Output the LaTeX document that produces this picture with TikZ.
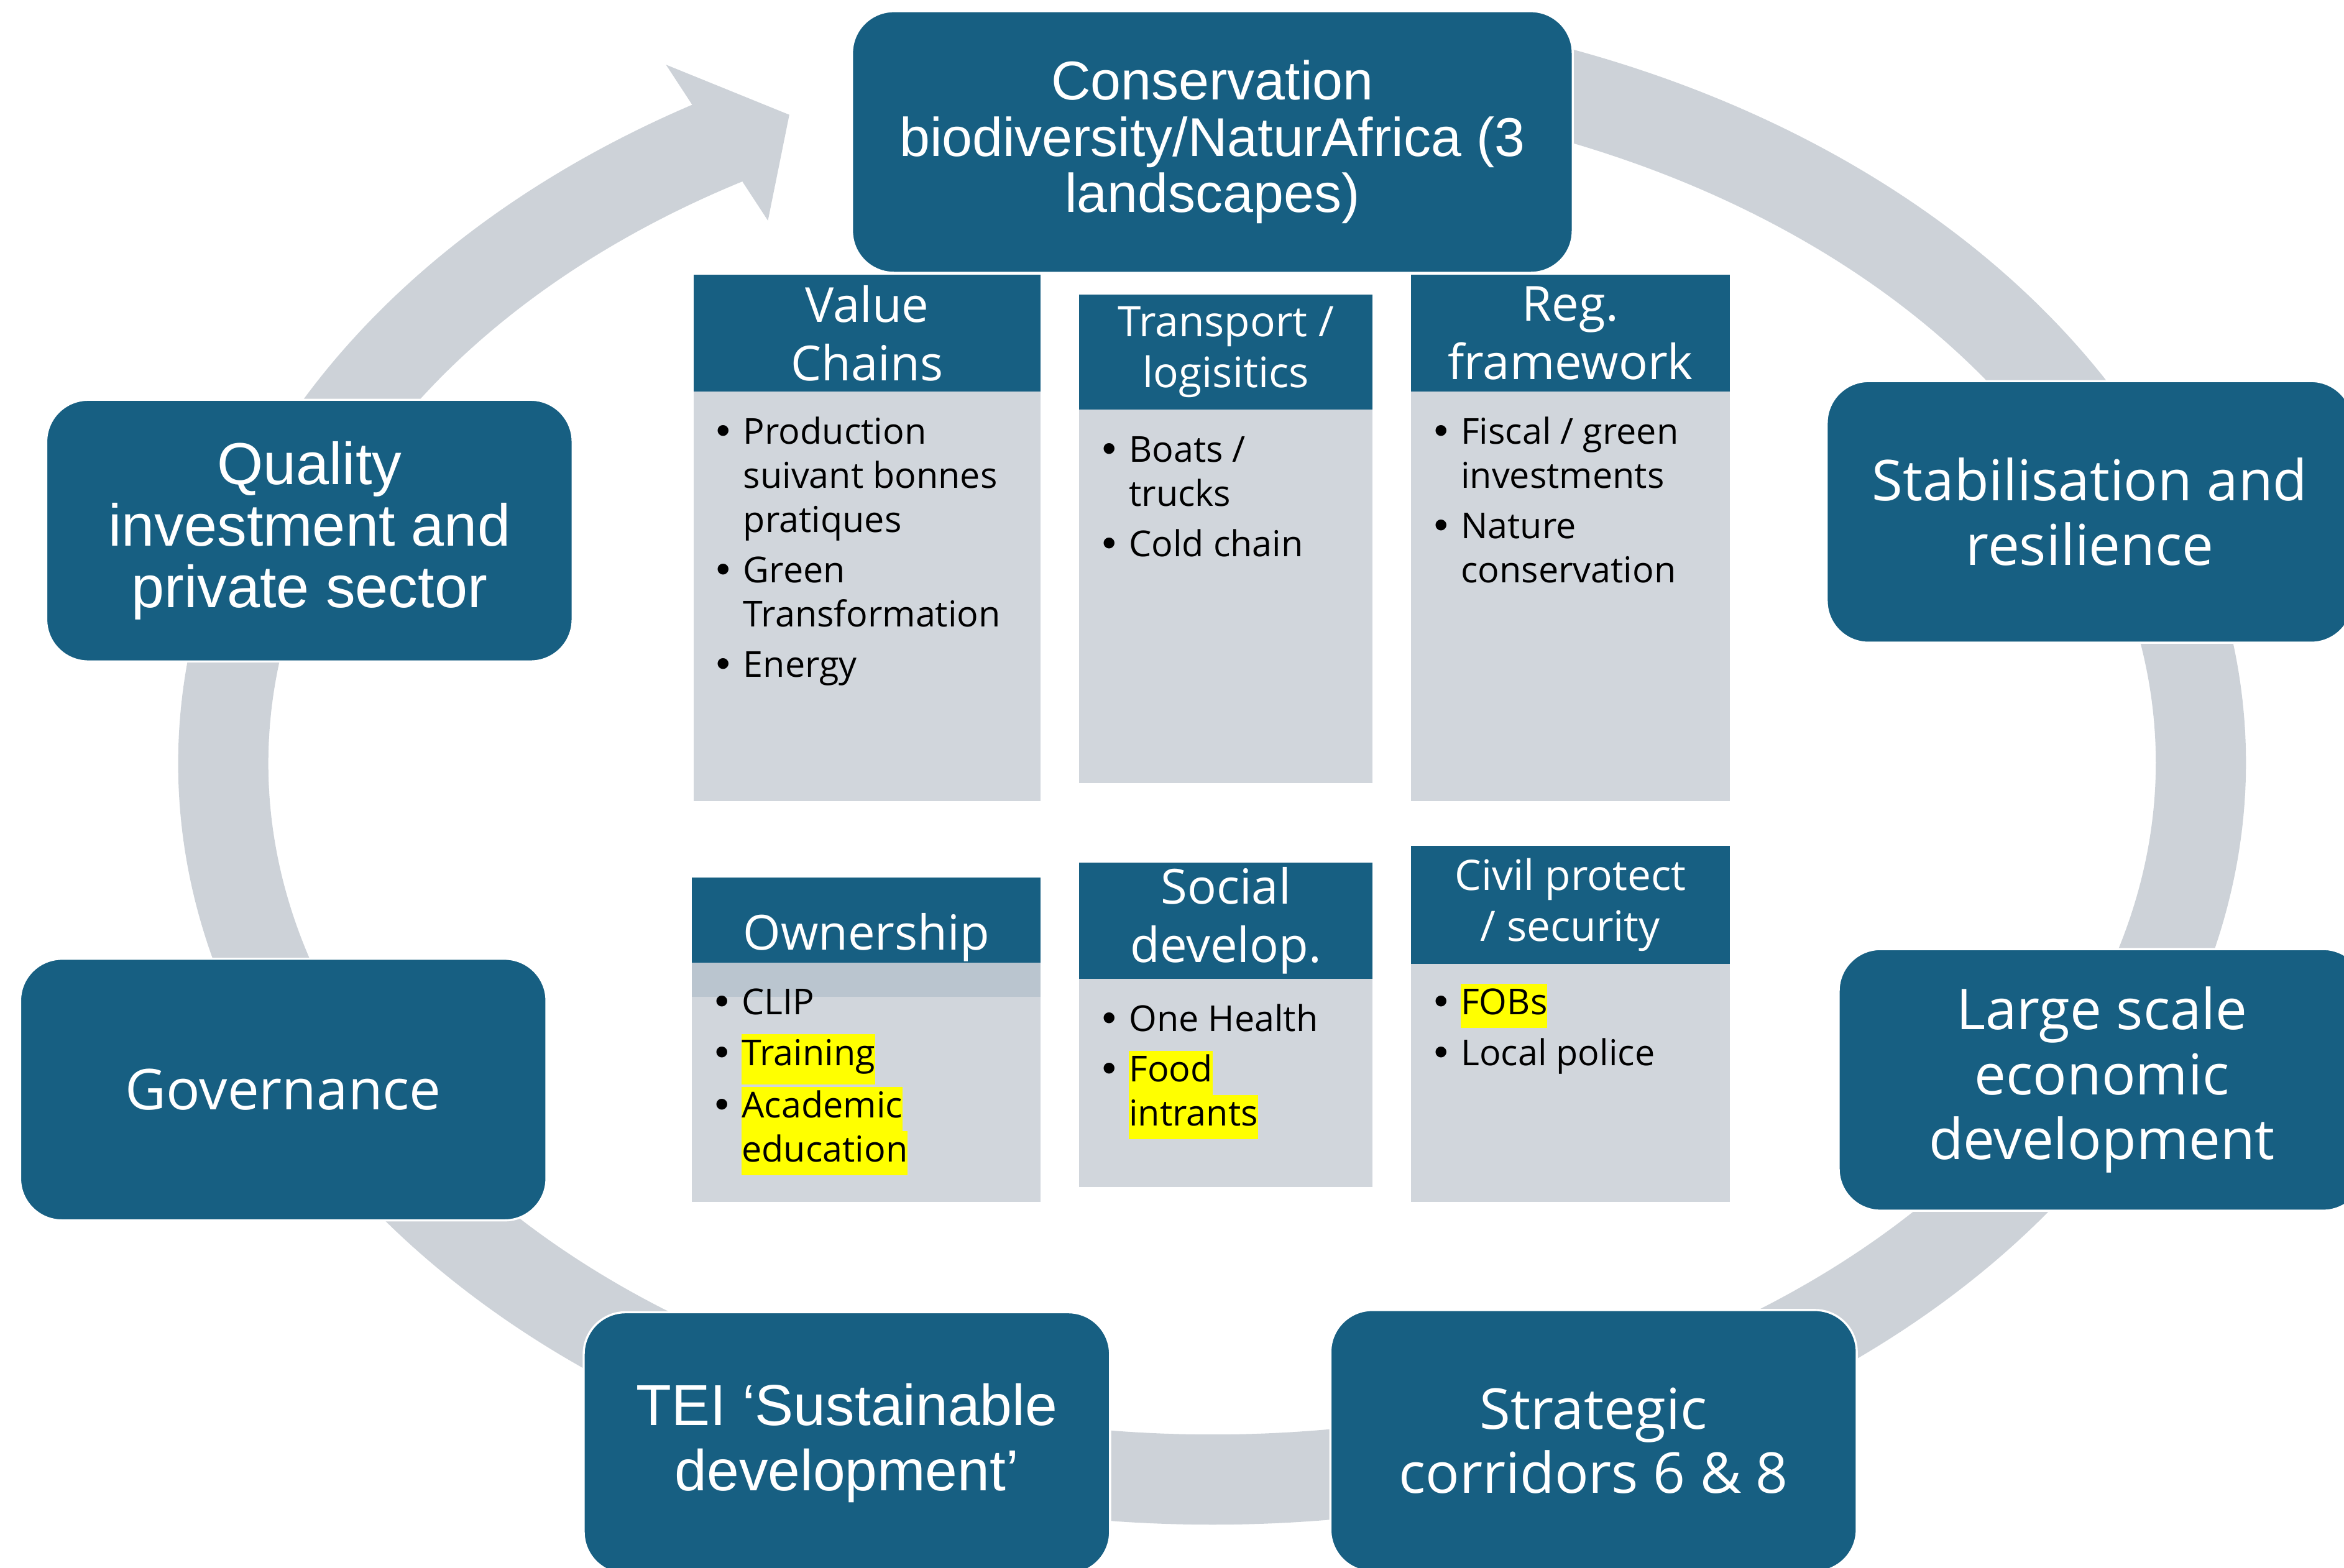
\documentclass[tikz,border=0pt]{standalone}
\usepackage{fontspec}
\setmainfont{Liberation Sans}
\newfontfamily\aptos{Open Sans}
\usepackage{xcolor}
\usepackage{tikz}
\usetikzlibrary{positioning,calc}
\definecolor{boxblue}{RGB}{23,95,130}
\definecolor{ringgray}{RGB}{205,210,216}
\definecolor{panelgray}{RGB}{204,209,216}
\definecolor{hlyellow}{RGB}{255,255,0}
\tikzstyle{box} = [rectangle,rounded corners=0.7cm,fill=boxblue,draw=white,line width=1pt,text=white,align=center,minimum width=8.8cm,minimum height=4.375cm,inner sep=0pt]
\tikzstyle{hdr} = [rectangle,fill=boxblue,text=white,align=center,inner sep=0pt,outer sep=0pt,font=\aptos\fontsize{23}{27.7}\selectfont]
\tikzstyle{panel} = [rectangle,fill=panelgray,fill opacity=0.9,inner sep=0pt,outer sep=0pt]
\tikzstyle{list} = [anchor=north west,inner sep=0pt,align=left,font=\aptos\fontsize{17}{21}\selectfont]
\tikzstyle{ring} = [draw=ringgray,line width=1.5075cm]
\newcommand{\bul}{\makebox[0.45cm][l]{\rmfamily\fontsize{19}{21}\selectfont\textbullet}}
\newcommand{\ind}{\hspace*{0.45cm}}
\newcommand{\hl}[2][0pt]{{\setlength{\fboxsep}{0pt}\colorbox{hlyellow}{\rule[\dimexpr-0.3\baselineskip-#1\relax]{0pt}{\dimexpr\baselineskip+#1\relax}#2}}}

\begin{document}
\begin{tikzpicture}[x=0.025cm,y=-0.025cm]
    \useasboundingbox (0,0) rectangle (1568,1049);
    \coordinate (ctr) at (810.8,510.6);
    \draw[ring] ($(ctr)+({661.3*cos(-75)},{479.2*sin(-75)})$) arc[start angle=-75,end angle=241,x radius=661.3,y radius=479.2];
    \coordinate (barbA) at (445.5,43.3);
    \coordinate (tip) at (528,76.8);
    \coordinate (barbB) at (513.7,147.6);
    \fill[ringgray] (barbA) -- (tip) -- (barbB) -- cycle;

    \node[box,minimum width=12.05cm,font=\fontsize{26}{26.7}\selectfont] (cons) at (811,95) {Conservation\\biodiversity/NaturAfrica (3\\landscapes)};
    \node[box,font=\fontsize{28.2}{29.2}\selectfont] (qual) at (207,355) {Quality\\investment and\\private sector};
    \node[box,font=\aptos\fontsize{26.8}{30.8}\selectfont] (stab) at (1398,342.5) {Stabilisation and\\resilience};
    \node[box,font=\aptos\fontsize{26.8}{30.8}\selectfont] (gov) at (189.5,729) {Governance};
    \node[box,font=\aptos\fontsize{26.8}{30.9}\selectfont] (large) at (1406,722.5) {Large scale\\economic\\development};
    \node[box,font=\fontsize{27.5}{31}\selectfont] (tei) at (566.5,965.5) {TEI ‘Sustainable\\development’};
    \node[box,font=\aptos\fontsize{26.8}{30.6}\selectfont] (corr) at (1066,964) {Strategic\\corridors 6 \& 8};

    \node[hdr,minimum width=5.8cm,minimum height=1.95cm] (vcHead) at (580,223) {Value\\Chains};
    \node[panel,below=0pt of vcHead,minimum width=5.8cm,minimum height=6.85cm] (vcBody) {};
    \node[list] (vcList) at ($(vcBody.north west)+(15,14)$) {\strut\bul Production\\ \ind suivant bonnes\\ \ind pratiques\\[3pt] \bul Green\\ \ind Transformation\\[3pt] \bul Energy};

    \node[hdr,minimum width=4.9cm,minimum height=1.925cm,font=\aptos\fontsize{20}{24.2}\selectfont] (tlHead) at (820,235.5) {Transport /\\logisitics};
    \node[panel,below=0pt of tlHead,minimum width=4.9cm,minimum height=6.25cm] (tlBody) {};
    \node[list] (tlList) at ($(tlBody.north west)+(15,14)$) {\strut\bul Boats /\\ \ind trucks\\[3pt] \bul Cold chain};

    \node[hdr,minimum width=5.325cm,minimum height=1.95cm] (rgHead) at (1050.5,223) {Reg.\\framework};
    \node[panel,below=0pt of rgHead,minimum width=5.325cm,minimum height=6.85cm] (rgBody) {};
    \node[list] (rgList) at ($(rgBody.north west)+(15,14)$) {\strut\bul Fiscal / green\\ \ind investments\\[3pt] \bul Nature\\ \ind conservation};

    \node[hdr,minimum width=5.825cm,minimum height=2cm] (owHead) at (579.5,627) {Ownership};
    \node[panel,below=-0.575cm of owHead,minimum width=5.825cm,minimum height=4cm] (owBody) {};
    \node[list] (owList) at ($(owBody.north west)+(15,14)$) {\strut\bul CLIP\\[3pt] \bul \hl[3pt]{Training}\\ \bul \hl{Academic}\\ \ind \hl{education}};

    \node[hdr,minimum width=4.9cm,minimum height=1.95cm] (sdHead) at (820,616) {Social\\develop.};
    \node[panel,below=0pt of sdHead,minimum width=4.9cm,minimum height=3.475cm] (sdBody) {};
    \node[list] (sdList) at ($(sdBody.north west)+(15,14)$) {\strut\bul One Health\\[3pt] \bul \hl{Food}\\ \ind \hl{intrants}};

    \node[hdr,minimum width=5.325cm,minimum height=1.975cm,font=\aptos\fontsize{20}{24.2}\selectfont] (cpHead) at (1050.5,605.5) {Civil protect\\/ security};
    \node[panel,below=0pt of cpHead,minimum width=5.325cm,minimum height=3.975cm] (cpBody) {};
    \node[list] (cpList) at ($(cpBody.north west)+(15,13)$) {\strut\bul \hl{FOBs}\\[3pt] \bul Local police};
\end{tikzpicture}
\end{document}
